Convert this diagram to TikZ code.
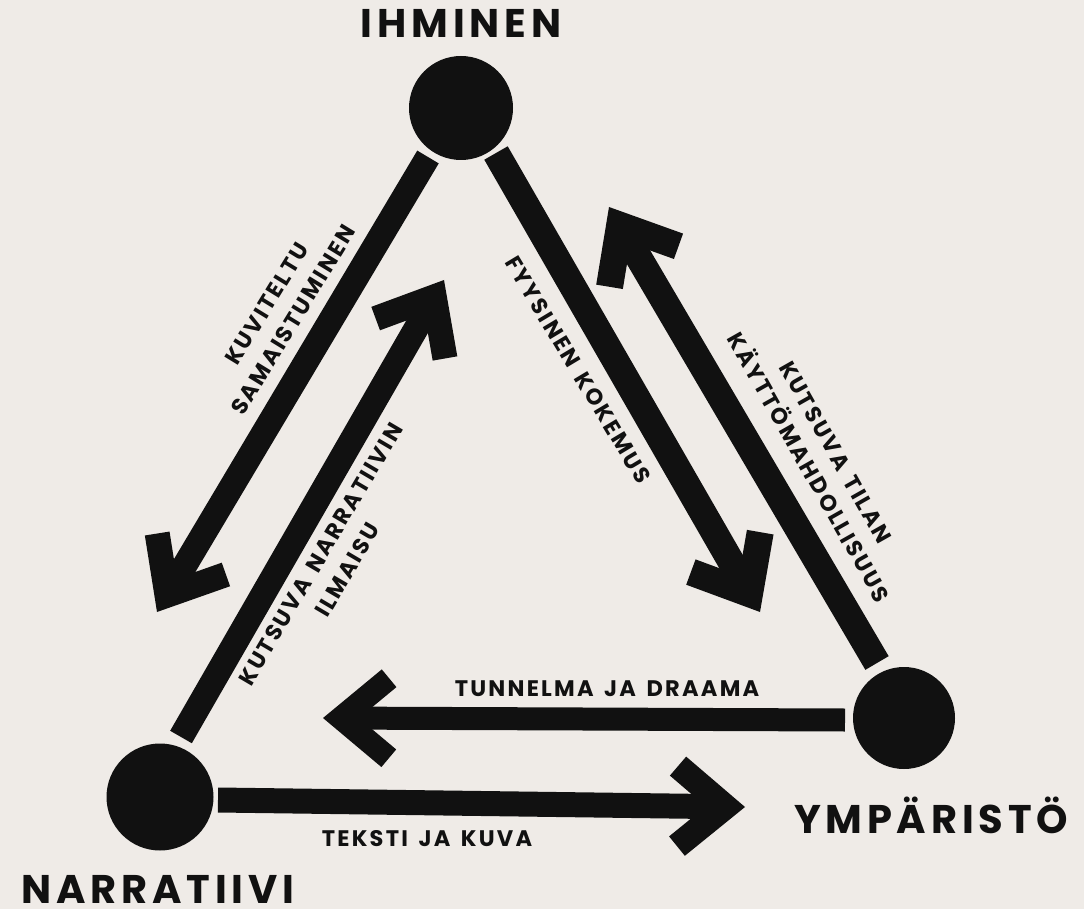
\documentclass[tikz,border=0pt]{standalone}
\usepackage{fontspec}
\setmainfont{Poppins}
\newfontfamily\titlefont{Poppins}[LetterSpace=12]
\newfontfamily\linkfont{Poppins}[LetterSpace=10,WordSpace=1.5]
\usetikzlibrary{arrows.meta}
\definecolor{paper}{RGB}{239,235,231}
\definecolor{ink}{RGB}{17,17,17}

\tikzset{
  dot/.style={circle, fill=ink, inner sep=0pt, minimum size=#1},
  band/.style={draw=ink, line width=25pt},
  arrowband/.style={band, -{Straight Barb[length=48pt,width=80pt]}},
  nodetitle/.style={font=\titlefont\bfseries\fontsize{40}{48}\selectfont, text=ink, anchor=base},
  linktext/.style={font=\linkfont\bfseries\fontsize{22.5}{31}\selectfont, text=ink, align=center},
}

\begin{document}
\begin{tikzpicture}[x=1pt,y=-1pt]
  % Paper
  \fill[paper] (0,0) rectangle (1084,909);
  \useasboundingbox (0,0) rectangle (1084,909);

  % Corners of the triangle
  \node[dot=104pt] (ihminen) at (461,108) {};
  \node[dot=107pt] (narratiivi) at (160,797) {};
  \node[dot=102pt] (ymparisto) at (904,718) {};

  \node[nodetitle] (ihminenT) at (461,38) {IHMINEN};
  \node[nodetitle] (narratiiviT) at (158,903) {NARRATIIVI};
  \node[nodetitle] (ymparistoT) at (931,833) {YMPÄRISTÖ};

  % Ends of the bands
  \coordinate (a1) at (428,157); \coordinate (a2) at (157,612);
  \coordinate (b1) at (181,737); \coordinate (b2) at (444,280);
  \coordinate (c1) at (496,153); \coordinate (c2) at (760,612);
  \coordinate (d1) at (877,663); \coordinate (d2) at (609,207);
  \coordinate (e1) at (845,720); \coordinate (e2) at (323,718);
  \coordinate (f1) at (218,800); \coordinate (f2) at (745,807);

  \draw[arrowband] (a1) -- (a2);
  \draw[arrowband] (b1) -- (b2);
  \draw[arrowband, line width=27pt] (c1) -- (c2);
  \draw[arrowband, line width=27pt] (d1) -- (d2);
  \draw[arrowband, line width=23pt] (e1) -- (e2);
  \draw[arrowband] (f1) -- (f2);

  % Labels along the bands
  \node[linktext, rotate=58.5] (kuviteltu) at (280,312) {KUVITELTU\\SAMAISTUMINEN};
  \node[linktext, rotate=59.5] (narrILM) at (334,562) {KUTSUVA NARRATIIVIN\\ILMAISU};
  \node[linktext, rotate=-59] (fyysinen) at (578,370) {FYYSINEN KOKEMUS};
  \node[linktext, rotate=-60.5] (tilanKM) at (822,460) {KUTSUVA TILAN\\KÄYTTÖMAHDOLLISUUS};
  \node[linktext, anchor=base] (tunnelma) at (607,696) {TUNNELMA JA DRAAMA};
  \node[linktext, anchor=base] (teksti) at (427,846) {TEKSTI JA KUVA};
\end{tikzpicture}
\end{document}
